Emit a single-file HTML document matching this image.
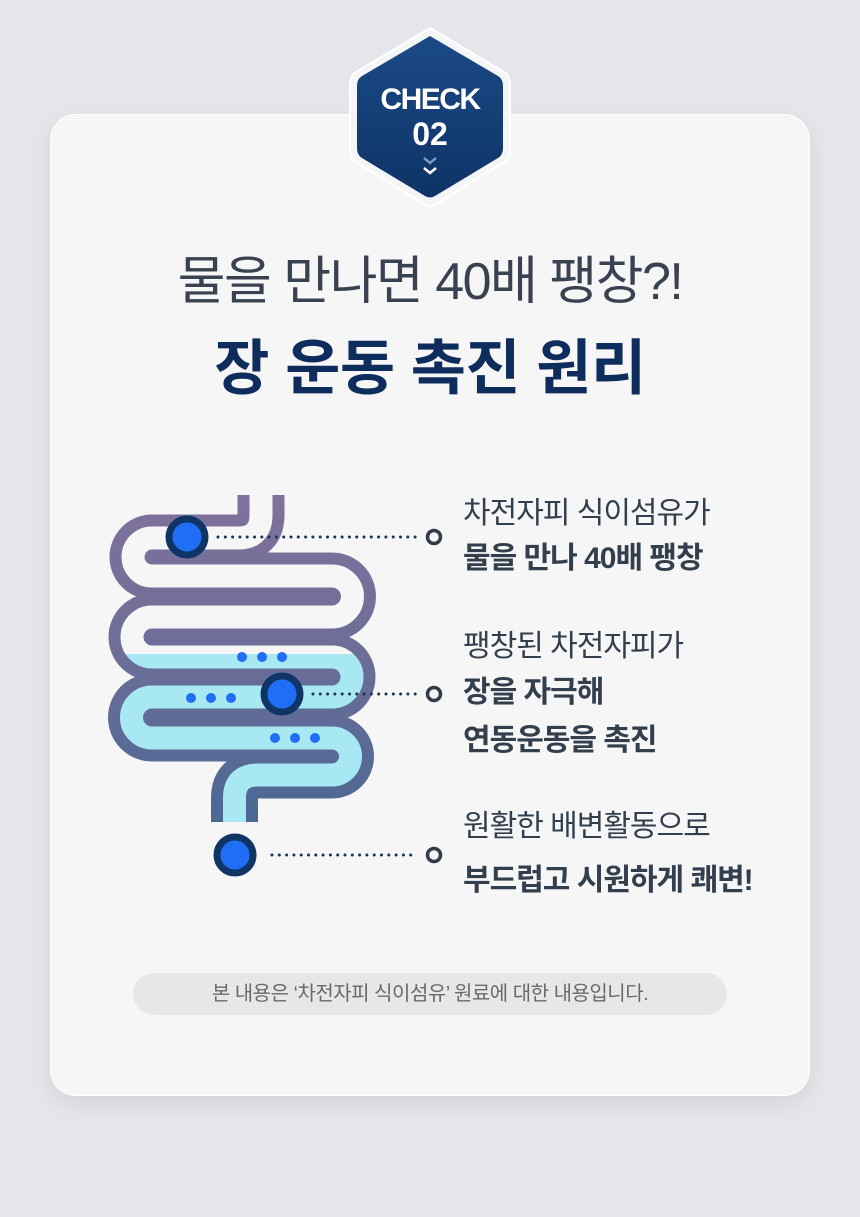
<!DOCTYPE html>
<html><head><meta charset="utf-8"><style>
html,body{margin:0;padding:0}
body{width:860px;height:1217px;background:#e5e6ea;position:relative;overflow:hidden;font-family:"Liberation Sans","Noto Sans CJK KR",sans-serif}
.card{position:absolute;left:50px;top:114px;width:760px;height:982px;background:#f6f6f7;border-radius:26px;box-shadow:0 8px 24px rgba(0,0,0,0.08);border:1px solid #fff;box-sizing:border-box}
.t{position:absolute;white-space:nowrap;letter-spacing:-1px;line-height:1.15}
.c{left:0;width:860px;text-align:center}
.r{left:463px;font-size:30px;color:#333f4d}
.b{font-weight:bold}
</style></head><body>
<div class="card"></div>
<svg style="position:absolute;left:0;top:0" width="860" height="1217">
<defs>
<linearGradient id="hx" x1="0" y1="0" x2="0" y2="1"><stop offset="0" stop-color="#1b4a86"/><stop offset="1" stop-color="#0e3366"/></linearGradient>
<linearGradient id="wall" gradientUnits="userSpaceOnUse" x1="0" y1="490" x2="0" y2="825"><stop offset="0" stop-color="#80729c"/><stop offset="0.45" stop-color="#6f6e98"/><stop offset="1" stop-color="#4a6893"/></linearGradient>
<linearGradient id="lum" gradientUnits="userSpaceOnUse" x1="0" y1="480" x2="0" y2="830"><stop offset="0" stop-color="#f6f6f7"/><stop offset="0.4971" stop-color="#f6f6f7"/><stop offset="0.4972" stop-color="#a8e8f3"/><stop offset="1" stop-color="#a8e8f3"/></linearGradient>
</defs>
<path d="M430 28 L504 72 Q510 76 510 84 L510 150 Q510 158 504 162 L436 204 Q430 208 424 204 L356 162 Q350 158 350 150 L350 84 Q350 76 356 72 Z" fill="#f4f5f7" stroke="#fff" stroke-width="2"/>
<path d="M430 36 L498 76 Q503 79 503 86 L503 148 Q503 155 498 158 L435 196 Q430 199 425 196 L362 158 Q357 155 357 148 L357 86 Q357 79 362 76 Z" fill="url(#hx)"/>
<text x="430" y="109" text-anchor="middle" font-family="Liberation Sans,sans-serif" font-weight="bold" font-size="30" fill="#fff" letter-spacing="-1.5">CHECK</text>
<text x="430" y="145" text-anchor="middle" font-family="Liberation Sans,sans-serif" font-weight="bold" font-size="32" fill="#fff">02</text>
<path d="M424 158 L430 163 L436 158" stroke="#7f97bd" stroke-width="2.5" fill="none"/>
<path d="M424 168 L430 173 L436 168" stroke="#fff" stroke-width="2.5" fill="none"/>

<g fill="none" stroke-linejoin="round">
<path d="M261 495 L261 515 Q261 538 238 538 L152 538 A19 19 0 0 0 152 576 L332 576 A20.5 20.5 0 0 1 332 617 L152 617 A20 20 0 0 0 152 657 L332 657 A20 20 0 0 1 332 697 L152 697 A20.5 20.5 0 0 0 152 738 L332 738 A18.5 18.5 0 0 1 332 775 L258 775 Q234.5 775 234.5 798 L234.5 822" stroke="url(#wall)" stroke-width="47"/>
<path d="M261 480 L261 515 Q261 538 238 538 L152 538 A19 19 0 0 0 152 576 L332 576 A20.5 20.5 0 0 1 332 617 L152 617 A20 20 0 0 0 152 657 L332 657 A20 20 0 0 1 332 697 L152 697 A20.5 20.5 0 0 0 152 738 L332 738 A18.5 18.5 0 0 1 332 775 L258 775 Q234.5 775 234.5 798 L234.5 840" stroke="url(#lum)" stroke-width="23"/>
</g>
<rect x="200" y="822" width="70" height="20" fill="#f6f6f7"/>
<rect x="225" y="478" width="70" height="17" fill="#f6f6f7"/>
<g fill="#1f6ef5">
<circle cx="242" cy="657" r="5"/><circle cx="262" cy="657" r="5"/><circle cx="282" cy="657" r="5"/>
<circle cx="191" cy="698" r="5"/><circle cx="211" cy="698" r="5"/><circle cx="231" cy="698" r="5"/>
<circle cx="275" cy="738" r="5"/><circle cx="295" cy="738" r="5"/><circle cx="315" cy="738" r="5"/>
</g>
<g fill="#1f6ef5" stroke="#0f3566" stroke-width="7">
<circle cx="187" cy="537" r="18"/><circle cx="282" cy="694" r="18"/><circle cx="235" cy="855" r="18"/>
</g>
<g stroke="#1c3152" stroke-width="3" stroke-linecap="round" stroke-dasharray="0 7.3">
<line x1="218" y1="537" x2="418" y2="537"/>
<line x1="313" y1="694" x2="418" y2="694"/>
<line x1="272" y1="855" x2="418" y2="855"/>
</g>
<g fill="none" stroke="#333d4a" stroke-width="3.5">
<circle cx="434" cy="537" r="6.5"/><circle cx="434" cy="694" r="6.5"/><circle cx="434" cy="855" r="6.5"/>
</g>
<rect x="133" y="973" width="594" height="42" rx="21" fill="#e7e7e8"/>
</svg>
<div class="t c" style="top:253px;font-size:52px;color:#3a4150;letter-spacing:-1.5px">물을 만나면 40배 팽창?!</div>
<div class="t c b" style="top:334px;font-size:60px;color:#0f2d5c;letter-spacing:-0.5px">장 운동 촉진 원리</div>
<div class="t r" style="top:497px">차전자피 식이섬유가</div>
<div class="t r b" style="top:542px">물을 만나 40배 팽창</div>
<div class="t r" style="top:630px">팽창된 차전자피가</div>
<div class="t r b" style="top:676px">장을 자극해</div>
<div class="t r b" style="top:724px">연동운동을 촉진</div>
<div class="t r" style="top:810px">원활한 배변활동으로</div>
<div class="t r b" style="top:864px">부드럽고 시원하게 쾌변!</div>
<div class="t c" style="top:983px;font-size:20px;color:#6a6a6a;letter-spacing:-0.5px">본 내용은 ‘차전자피 식이섬유’ 원료에 대한 내용입니다.</div>
</body></html>
